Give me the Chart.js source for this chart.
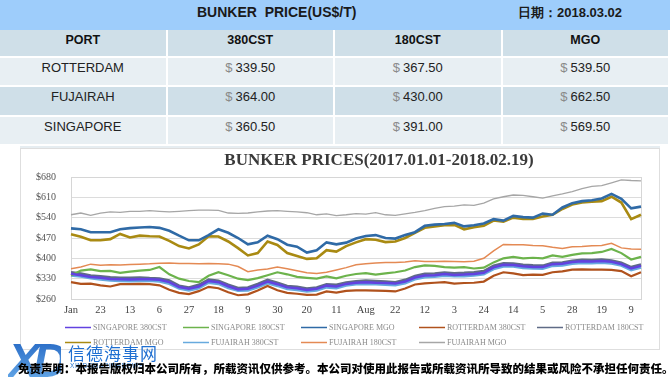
<!DOCTYPE html>
<html>
<head>
<meta charset="utf-8">
<script src="https://cdn.jsdelivr.net/npm/chart.js@4.4.0/dist/chart.umd.min.js"></script>
<style>
body{margin:0;width:670px;height:382px;overflow:hidden;background:#fff;position:relative;font-family:"Liberation Sans",Arial,sans-serif}
#band{position:absolute;left:0;top:0;width:670px;height:30px;background:#9ecdfb}
#band .t{position:absolute;top:4px;font-weight:bold;color:#1a1a1a;white-space:pre}
.cell{position:absolute;box-sizing:border-box;border-right:2px solid #fff;border-bottom:2px solid #fff;text-align:center;line-height:20px;color:#222;font-size:13px}
.hd{font-weight:bold;font-size:12.5px;color:#111}
.cell .d{color:#8a8a8a;margin-right:3px}
#strip{position:absolute;left:20px;top:146px;width:640px;height:2px;background:#e6edf1}
#box{position:absolute;left:20px;top:148px;width:638px;height:200px;border:1px solid #dedede;background:#fff}
#logo{position:absolute;left:8px;top:333px;font:italic bold 48px "Liberation Sans",Arial,sans-serif;letter-spacing:-7px;
  background:linear-gradient(180deg,#1d5fbf,#6fb3ee);-webkit-background-clip:text;background-clip:text;color:transparent}
#cn{position:absolute;left:68px;top:340px;font:17px "Noto Sans CJK SC",sans-serif;color:#1f6fd1;letter-spacing:1px}
#en{position:absolute;left:70px;top:362px;font:6.5px "Liberation Sans",Arial,sans-serif;color:#2a78d0;letter-spacing:0.6px}
#note{position:absolute;left:18px;top:360px;font:900 11.5px "Noto Sans CJK SC",sans-serif;color:#000;white-space:nowrap}
</style>
</head>
<body>
<div id="band">
  <div class="t" style="left:197px;font-size:14px">BUNKER  PRICE(US$/T)</div>
  <div class="t" style="left:518px;font-size:13px">日期：2018.03.02</div>
</div>
<div id="table"></div>
<div id="strip"></div>
<div id="box"><canvas id="c" width="638" height="200"></canvas></div>
<div id="logo">XD</div>
<div id="cn">信德海事网</div>
<div id="en">XINDEMARINENEWS</div>
<div id="note">免责声明：本报告版权归本公司所有，所载资讯仅供参考。本公司对使用此报告或所载资讯所导致的结果或风险不承担任何责任。</div>

<script>
// table data
const ports = ["ROTTERDAM", "FUJAIRAH", "SINGAPORE"];
const grades = ["380CST", "180CST", "MGO"];
const price380 = ["339.50", "364.00", "360.50"];
const price180 = ["367.50", "430.00", "391.00"];
const priceMgo = ["539.50", "662.50", "569.50"];

// chart data (2017.01.01 - 2018.02.19)
const xLabels = ['Jan','','','23','','','13','','','6','','','27','','','18','','','9','','','30','','','20','','','11','','',
  'Aug','','','22','','','12','','','3','','','24','','','14','','','5','','','28','','','19','','','9',''];

const sing380 = [347,342,336,333,329,328,327,328,328,326,318,301,295,303,322,318,304,293,295,306,
  320,311,300,297,291,295,306,303,312,316,318,316,315,313,320,334,341,342,346,343,
  344,346,350,369,378,377,373,370,370,380,381,387,390,389,391,388,380,365,374];
const sing180 = [341,358,362,356,357,350,354,358,360,370,345,330,322,318,340,352,342,330,325,332,
  342,352,345,336,333,330,338,331,340,346,349,344,348,352,358,370,376,374,370,368,
  370,365,368,386,400,405,400,402,400,410,405,412,417,418,422,432,418,396,405];
const singMgo = [503,500,490,490,490,500,504,506,508,505,495,478,462,462,480,500,488,470,448,455,
  478,466,447,440,420,428,455,448,454,468,477,480,470,468,480,490,512,516,518,522,
  510,514,520,535,530,546,542,540,554,550,575,590,597,600,606,622,605,572,578];
const rott380 = [318,312,313,307,303,311,311,312,311,307,292,281,277,287,302,297,283,273,276,289,
  305,290,281,278,274,275,286,282,288,290,290,289,288,286,296,310,314,316,318,313,
  315,316,320,340,352,348,342,344,343,352,355,361,362,361,361,360,356,338,352];
const rott180 = [352,348,341,338,335,333,333,334,332,331,324,306,300,309,327,323,309,298,300,312,
  326,316,305,302,296,300,311,309,317,321,324,322,320,318,326,339,347,348,351,349,
  350,352,356,375,383,382,378,376,375,385,386,392,395,394,396,393,385,370,379];
const rottMgo = [483,474,462,462,466,484,472,478,476,475,460,442,434,448,476,475,458,435,410,418,
  458,446,418,408,398,400,428,423,442,455,466,464,456,458,470,488,505,510,514,515,
  500,507,512,530,526,540,536,536,544,550,570,585,592,595,597,612,592,535,550];
const fuj380 = [341,337,331,327,324,322,321,322,323,320,312,296,289,297,316,312,298,288,289,300,
  314,305,294,291,286,289,300,297,306,311,312,311,309,307,314,328,335,337,340,338,
  338,341,345,363,372,372,367,365,364,374,375,381,384,383,385,382,375,359,368];
const fuj180 = [364,370,380,376,378,377,379,380,381,383,384,382,382,381,382,381,380,372,354,360,
  363,370,364,357,350,348,352,360,368,378,381,384,386,386,387,392,389,389,390,389,
  388,390,400,426,448,447,447,444,443,438,434,440,441,443,444,452,436,432,431];
const fujMgo = [550,556,548,556,560,558,562,562,564,562,560,562,564,566,566,565,556,555,556,560,
  563,564,562,560,557,550,553,547,550,554,552,557,550,548,553,558,564,572,578,580,
  584,582,590,605,612,618,617,612,607,615,622,630,640,648,650,660,670,668,667];

// build the price table
const table = document.getElementById("table");
const colW = 167.5;
const rowTop = [30, 58, 87, 117];
const rowH = [28, 29, 30, 29];
const rowBg = ["#cfdfe8", "#e8eff3", "#cfdfe8", "#e8eff3"];
function addCell(r, c, html, cls) {
  const d = document.createElement("div");
  d.className = "cell" + (cls ? " " + cls : "");
  d.style.left = (c * colW) + "px";
  d.style.top = rowTop[r] + "px";
  d.style.width = colW + "px";
  d.style.height = rowH[r] + "px";
  d.style.background = rowBg[r];
  d.innerHTML = html;
  table.appendChild(d);
}
addCell(0, 0, "PORT", "hd");
grades.forEach((g, i) => addCell(0, i + 1, g, "hd"));
ports.forEach((p, i) => {
  addCell(i + 1, 0, p);
  addCell(i + 1, 1, '<span class="d">$</span>' + price380[i]);
  addCell(i + 1, 2, '<span class="d">$</span>' + price180[i]);
  addCell(i + 1, 3, '<span class="d">$</span>' + priceMgo[i]);
});

function ds(label, data, color, width) {
  return { label: label, data: data, borderColor: color, backgroundColor: color, borderWidth: width, pointRadius: 0, tension: 0, fill: false };
}

// plot frame
const framePlugin = {
  id: "frame",
  beforeDatasetsDraw(chart) {
    const a = chart.chartArea, c = chart.ctx;
    c.save();
    c.strokeStyle = "#d6d6d6";
    c.lineWidth = 1;
    c.strokeRect(a.left + 0.5, a.top + 0.5, a.right - a.left, a.bottom - a.top);
    c.restore();
  }
};

// title, a little right of centre like the original
const titlePlugin = {
  id: "ttl",
  afterDraw(chart) {
    const c = chart.ctx;
    c.save();
    c.font = "bold 17px 'Liberation Serif', serif";
    c.fillStyle = "#3a3a3a";
    c.textAlign = "center";
    c.textBaseline = "middle";
    c.fillText("BUNKER PRICES(2017.01.01-2018.02.19)", 358, 12);
    c.restore();
  }
};

// legend laid out in a 5 column grid
const legendCols = [44, 162, 280, 398, 516];
const legendRows = [178.5, 193.5];
const legendPlugin = {
  id: "grid-legend",
  afterDraw(chart) {
    const c = chart.ctx;
    c.save();
    c.font = "8px 'Liberation Serif', serif";
    c.textBaseline = "middle";
    chart.data.datasets.forEach((d, k) => {
      const x = legendCols[k % 5], y = legendRows[Math.floor(k / 5)];
      c.strokeStyle = d.borderColor;
      c.lineWidth = 1.5;
      c.beginPath();
      c.moveTo(x, y);
      c.lineTo(x + 26, y);
      c.stroke();
      c.fillStyle = "#8a8a8a";
      c.fillText(d.label, x + 28, y);
    });
    c.restore();
  }
};

new Chart(document.getElementById("c"), {
  type: "line",
  data: {
    labels: xLabels,
    datasets: [
      ds("SINGAPORE 380CST", sing380, "#6242e0", 2.5),
      ds("SINGAPORE 180CST", sing180, "#6cb34c", 2.2),
      ds("SINGAPORE MGO", singMgo, "#2f6aa6", 2.6),
      ds("ROTTERDAM 380CST", rott380, "#b0521d", 2.2),
      ds("ROTTERDAM 180CST", rott180, "#5f6b86", 2.5),
      ds("ROTTERDAM MGO", rottMgo, "#a98a12", 2.6),
      ds("FUJAIRAH 380CST", fuj380, "#67aade", 2.5),
      ds("FUJAIRAH 180CST", fuj180, "#e48a54", 1.5),
      ds("FUJAIRAH MGO", fujMgo, "#a6a6a6", 1.3)
    ]
  },
  options: {
    responsive: false,
    animation: false,
    devicePixelRatio: 1,
    layout: { padding: { top: 28, right: 18, bottom: 26, left: 0 } },
    plugins: { legend: { display: false }, title: { display: false }, tooltip: { enabled: false } },
    scales: {
      x: {
        grid: { display: false },
        border: { display: false },
        ticks: { autoSkip: false, maxRotation: 0, padding: -3, color: "#444", font: { family: "Liberation Serif", size: 10.5 } },
        afterFit: s => { s.height = 24; }
      },
      y: {
        min: 260,
        max: 680,
        grid: { color: "#dcdcdc", drawTicks: false },
        border: { display: false },
        ticks: { stepSize: 70, padding: 15, color: "#555", font: { family: "Liberation Serif", size: 10 }, callback: v => "$" + v },
        afterFit: s => { s.width = 50; }
      }
    }
  },
  plugins: [framePlugin, titlePlugin, legendPlugin]
});
</script>
</body>
</html>
